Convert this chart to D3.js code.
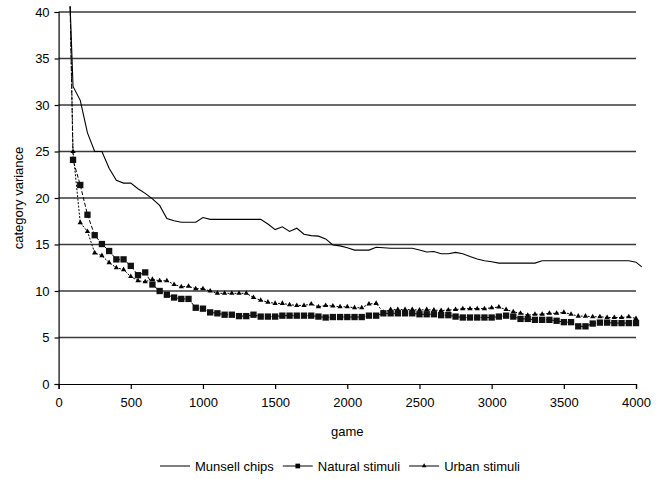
<!DOCTYPE html>
<html>
<head>
<meta charset="utf-8">
<script src="https://cdn.jsdelivr.net/npm/d3@7"></script>
<style>
  html, body { margin: 0; padding: 0; background: #fff; }
  svg text { font-family: "Liberation Sans", Arial, sans-serif; fill: #000; }
</style>
</head>
<body>
<svg id="chart" width="658" height="479"></svg>
<script>
const games = [80,100,150,200,250,300,350,400,450,500,550,600,650,700,750,800,850,900,950,1000,
  1050,1100,1150,1200,1250,1300,1350,1400,1450,1500,1550,1600,1650,1700,1750,1800,1850,1900,1950,2000,
  2050,2100,2150,2200,2250,2300,2350,2400,2450,2500,2550,2600,2650,2700,2750,2800,2850,2900,2950,3000,
  3050,3100,3150,3200,3250,3300,3350,3400,3450,3500,3550,3600,3650,3700,3750,3800,3850,3900,3950,4000,4040];

const munsell = [40.6,32.0,30.5,27.0,25.0,25.0,23.2,21.9,21.6,21.6,21.0,20.5,19.9,19.2,17.8,17.55,17.4,17.4,17.4,17.9,
  17.7,17.7,17.7,17.7,17.7,17.7,17.7,17.7,17.2,16.6,16.9,16.4,16.75,16.1,15.95,15.9,15.6,14.95,14.85,14.65,
  14.4,14.4,14.4,14.7,14.65,14.6,14.6,14.6,14.6,14.4,14.2,14.25,14.0,14.0,14.15,14.0,13.7,13.45,13.25,13.15,
  13.0,13.0,13.0,13.0,13.0,13.0,13.25,13.25,13.25,13.25,13.25,13.25,13.25,13.25,13.25,13.25,13.25,13.25,13.25,13.1,12.6];

const natural = [40.6,24.1,21.4,18.2,16.0,15.05,14.3,13.4,13.4,12.7,11.7,12.0,10.7,10.0,9.6,9.3,9.15,9.15,8.2,8.1,
  7.7,7.6,7.45,7.45,7.3,7.3,7.45,7.25,7.25,7.25,7.35,7.35,7.35,7.35,7.35,7.25,7.15,7.2,7.2,7.2,
  7.2,7.2,7.35,7.35,7.6,7.6,7.6,7.6,7.6,7.5,7.5,7.5,7.4,7.4,7.25,7.15,7.15,7.15,7.15,7.15,
  7.25,7.35,7.25,7.0,7.0,6.9,6.9,6.9,6.8,6.65,6.65,6.2,6.2,6.5,6.6,6.6,6.55,6.55,6.55,6.55,null];

const urban = [40.6,25.0,17.35,16.4,14.1,13.8,13.05,12.5,12.3,11.55,11.1,11.0,11.25,11.1,11.1,10.7,10.45,10.5,10.25,10.25,
  10.0,9.75,9.75,9.75,9.75,9.75,9.3,9.0,8.8,8.67,8.67,8.53,8.45,8.45,8.6,8.3,8.45,8.38,8.3,8.3,
  8.2,8.2,8.6,8.67,7.7,8.0,8.0,8.0,8.0,7.95,8.0,7.95,7.9,7.95,8.0,8.1,8.1,8.1,8.1,8.2,
  8.27,8.0,7.77,7.6,7.4,7.5,7.5,7.6,7.6,7.7,7.5,7.3,7.3,7.23,7.23,7.15,7.15,7.15,7.23,7.05,null];

const xTicks = [0,500,1000,1500,2000,2500,3000,3500,4000];
const yTicks = [0,5,10,15,20,25,30,35,40];
const seriesNames = ["Munsell chips", "Natural stimuli", "Urban stimuli"];
const xTitle = "game";
const yTitle = "category variance";

(function () {
const svg = d3.select("#chart");
const pL = 58.6, pR = 636, pT = 12, pB = 384;
const x = d3.scaleLinear().domain([0, 4000]).range([pL, pR]);
const y = d3.scaleLinear().domain([0, 40]).range([pB, pT]);

svg.append("g").selectAll("line").data(yTicks.filter(d => d > 0)).join("line")
  .attr("x1", pL).attr("x2", pR)
  .attr("y1", d => y(d)).attr("y2", d => y(d))
  .attr("stroke", "#3a3a3a").attr("stroke-width", 1.5);

const fs = 13;
const xAxis = svg.append("g").attr("transform", `translate(0,${pB})`)
  .call(d3.axisBottom(x).tickValues(xTicks).tickSize(5).tickPadding(9).tickFormat(d3.format("d")));
const yAxis = svg.append("g").attr("transform", `translate(${pL},0)`)
  .call(d3.axisLeft(y).tickValues(yTicks).tickSize(4).tickPadding(5).tickFormat(d3.format("d")));
[xAxis, yAxis].forEach(a => {
  a.select(".domain").attr("stroke", "#000").attr("stroke-width", 1.2);
  a.selectAll(".tick line").attr("stroke", "#000").attr("stroke-width", 1.2);
  a.selectAll("text").attr("font-size", fs).attr("fill", "#000")
    .style("font-family", '"Liberation Sans", Arial, sans-serif');
});

const data = games.map((g, i) => ({g, m: munsell[i], n: natural[i], u: urban[i]}));
const lineFor = key => d3.line().defined(d => d[key] != null).x(d => x(d.g)).y(d => y(d[key]));

svg.append("path").datum(data).attr("d", lineFor("u"))
  .attr("fill", "none").attr("stroke", "#000").attr("stroke-width", 1).attr("stroke-dasharray", "2,1.5");
svg.append("path").datum(data).attr("d", lineFor("n"))
  .attr("fill", "none").attr("stroke", "#000").attr("stroke-width", 1).attr("stroke-dasharray", "4,2");
svg.append("path").datum(data).attr("d", lineFor("m"))
  .attr("fill", "none").attr("stroke", "#000").attr("stroke-width", 1.1);

const sq = d3.symbol().type(d3.symbolSquare).size(40);
const tri = d3.symbol().type(d3.symbolTriangle).size(12);

// markers are clipped to the plot area (values above the 40 top are not marked)
svg.append("g").selectAll("path").data(data.filter(d => d.u != null && d.u <= 40)).join("path")
  .attr("d", tri).attr("transform", d => `translate(${x(d.g)},${y(d.u)})`).attr("fill", "#000");
svg.append("g").selectAll("path").data(data.filter(d => d.n != null && d.n <= 40)).join("path")
  .attr("d", sq).attr("transform", d => `translate(${x(d.g)},${y(d.n)})`).attr("fill", "#111");

svg.append("text").attr("x", (pL + pR) / 2).attr("y", 436).attr("text-anchor", "middle")
  .attr("font-size", fs).text(xTitle);
svg.append("text").attr("transform", `translate(23,${(pT + pB) / 2}) rotate(-90)`)
  .attr("text-anchor", "middle").attr("font-size", fs).text(yTitle);

const leg = svg.append("g");
const ly = 466;
let cx = 0;
const lineW = 30, gapIn = 5, gapOut = 9;
seriesNames.forEach((name, i) => {
  const g = leg.append("g");
  g.append("line").attr("x1", cx).attr("x2", cx + lineW).attr("y1", ly).attr("y2", ly)
    .attr("stroke", "#000").attr("stroke-width", 1);
  if (i === 1) g.append("path").attr("d", d3.symbol().type(d3.symbolSquare).size(22)).attr("transform", `translate(${cx + lineW / 2},${ly})`).attr("fill", "#000");
  if (i === 2) g.append("path").attr("d", d3.symbol().type(d3.symbolTriangle).size(9)).attr("transform", `translate(${cx + lineW / 2},${ly})`).attr("fill", "#000");
  const t = g.append("text").attr("x", cx + lineW + gapIn).attr("y", ly + 4.5).attr("font-size", fs).text(name);
  cx += lineW + gapIn + t.node().getComputedTextLength() + gapOut;
});
const total = cx - gapOut;
leg.attr("transform", `translate(${340 - total / 2},0)`);
})();
</script>
</body>
</html>
